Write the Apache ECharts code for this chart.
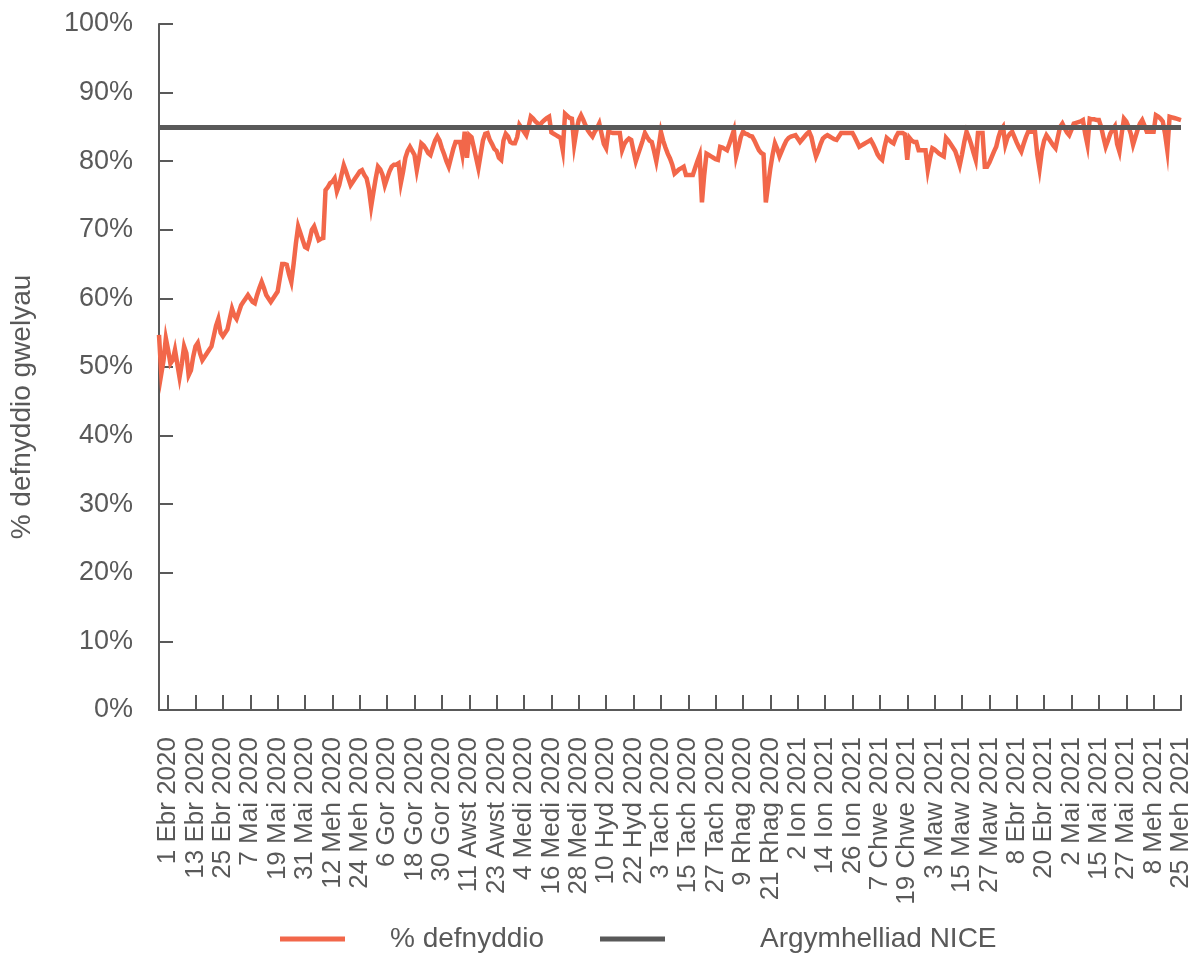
<!DOCTYPE html>
<html>
<head>
<meta charset="utf-8">
<script src="https://cdn.jsdelivr.net/npm/echarts@6/dist/echarts.min.js"></script>
<style>
html,body{margin:0;padding:0;background:#fff;}
#chart{width:1194px;height:953px;}
</style>
</head>
<body>
<div id="chart"></div>
<script>
// Welsh month abbreviations used in the category labels
const monthNames = ['Ion','Chwe','Maw','Ebr','Mai','Meh','Gor','Awst','Medi','Hyd','Tach','Rhag'];
// first date in the series and dates absent from the data
const startDate = [2020, 2, 28];
const missingDates = ['3 Mai 2021','12 Meh 2021','13 Meh 2021','19 Meh 2021','20 Meh 2021','24 Meh 2021'];
const endDate = [2021, 5, 25];
const firstLabelIndex = 4;
const labelStep = 12;

// % bed occupancy, daily (28 Mar 2020 - Aug 2020)
const usagePart1 = [
54.7,49,51,54.2,
52.5,50.5,51,52.5,50.5,48.5,50.5,53,52,48.8,49.5,51.5,
53,53.5,52,51,51.5,52,52.5,53,54.5,56,57,55,
54.5,55,55.5,57,58.5,57.5,57,58,59,59.5,60,60.5,
60,59.5,59.3,60.5,61.5,62.4,61.5,60.5,60,59.5,60,60.5,
61,63,65,65,64.9,63.5,62.4,65,68,70.5,69.5,68.5,
67.5,67.3,68.5,70,70.5,69.5,68.5,68.7,68.8,75.8,76.2,76.8,
77,77.5,75.6,76.5,78,79.4,78.5,77.5,76.5,77,77.5,78,
78.5,78.7,78,77.5,76,73.4,75.5,77.5,79.2,78.8,78,76.5,
77.5,78.5,79.2,79.5,79.5,79.7,76.8,78.5,80.5,81.5,82.1,81.5,
80.9,78.7,80.5,82.6,82.3,81.8,81.2,80.9,82,83,83.6,83,
81.9,81,80,79.2,80.5,81.8,82.8,82.8,82.8,81,84.3,80.5,
83.8,83.5,82,80.5,79,81,83,84,84.1,83.1,82.5,81.8
];
// Sep 2020 - Jan 2021
const usagePart2 = [
81.5,80.5,80.2,83,84,83.6,82.8,82.6,82.6,83.5,85.3,84.8,
84.3,83.8,85,86.5,86.2,85.8,85.5,85.3,85.7,86,86.3,86.5,
84.2,84,83.8,83.6,83.4,81.6,86.9,86.6,86.3,86.2,82.4,84.5,
86,86.7,86,85.2,84.5,84,83.6,84.3,84.8,85.5,84,82.5,
81.9,84.3,84.2,84.1,84.1,84.1,84.1,81.6,82.5,83,83.3,83.1,
81.5,80,81,82,83,84.1,83.5,83,82.8,81.5,80,82,
84.3,83,82,81.1,80.4,79.5,78.2,78.5,78.8,79,79.2,78,
78,78,78,79,80,80.9,74,78,81.1,80.9,80.7,80.5,
80.3,80.2,82.1,82,81.8,81.6,82.5,83.5,84.5,80.7,82,83.5,
84.3,84,83.9,83.7,83.6,83,82.3,81.6,81.2,81,74,76.5,
79,81,82.6,81.8,80.7,81.5,82.3,83,83.4,83.6,83.7,83.8,
83.3,82.8,83.2,83.6,84,84.3,83.5,82,80.7,81.5,82.5,83.3
];
// Jan 2021 - Jun 2021
const usagePart3 = [
83.6,83.8,83.6,83.4,83.2,83.1,83.6,84.1,84.1,84.1,84.1,84.1,
84.1,83.5,82.8,82.1,82.3,82.5,82.7,82.9,83.1,82.5,81.8,81,
80.5,80.2,82,83.4,83.1,82.8,82.6,83.5,84.1,84.1,84.1,83.9,
80.2,83.4,83,82.8,82.8,81.6,81.6,81.6,81.6,78.7,80.5,81.9,
81.7,81.4,81.1,80.9,80.7,83.4,83,82.5,82,81.5,80.5,79.4,
81,82.8,84.3,83.5,82.5,81.3,80.2,84.1,84.1,84.1,79.2,79.2,
79.8,80.6,81.4,82.1,83.5,84.5,85,82.4,83.5,84,84.3,83.5,
82.7,82,81.4,82.5,83.5,84.3,84.3,84.3,84.3,81,78.9,81.5,
83,83.8,83.3,82.8,82.3,81.9,83.5,85,85.5,84.8,84.2,83.8,
84.6,85.5,85.6,85.7,85.8,86,84,82.4,86.2,86.1,86.1,86,
86,85,83.5,82.1,83,84,84.6,85.1,82.5,81.4,84,86.2,
85.8,85,84,82.4,83.5,84.6,85.5,86,85.2,84.3,84.3,84.3,
84.3,86.7,86.5,86.2,85.8,84,81.6,86.5,86.4,86.3,86.2,86.1,
86
];
const usagePct = usagePart1.concat(usagePart2, usagePart3);
const niceTarget = 85;
const yTickStep = 10;
const yAxisTitle = '% defnyddio gwelyau';

// build daily category labels
const categories = [];
{
  const d = new Date(Date.UTC(startDate[0], startDate[1], startDate[2]));
  const end = Date.UTC(endDate[0], endDate[1], endDate[2]);
  while (d.getTime() <= end) {
    const s = d.getUTCDate() + ' ' + monthNames[d.getUTCMonth()] + ' ' + d.getUTCFullYear();
    if (missingDates.indexOf(s) < 0) categories.push(s);
    d.setUTCDate(d.getUTCDate() + 1);
  }
}

const showAt = (i) => i >= firstLabelIndex && (i - firstLabelIndex) % labelStep === 0;
const txt = '#595959';
const orange = '#F2674A';
const font = '"Liberation Sans", Arial, sans-serif';

const chart = echarts.init(document.getElementById('chart'), null, {renderer: 'canvas'});
chart.setOption({
  animation: false,
  backgroundColor: '#ffffff',
  grid: {left: 159, right: 11, top: 24, bottom: 243},
  graphic: [{
    type: 'text',
    x: 22, y: 407,
    rotation: Math.PI / 2,
    style: {text: yAxisTitle, fill: txt, font: '28px "Liberation Sans", Arial, sans-serif', align: 'center', verticalAlign: 'middle'}
  }],
  legend: [
    {
      data: [{name: '% defnyddio', icon: 'rect'}],
      left: 280, top: 925, padding: 0, itemWidth: 65, itemHeight: 5,
      textStyle: {color: txt, fontSize: 28, fontFamily: font, padding: [0, 0, 0, 40]}
    },
    {
      data: [{name: 'Argymhelliad NICE', icon: 'rect'}],
      left: 600, top: 925, padding: 0, itemWidth: 65, itemHeight: 5,
      textStyle: {color: txt, fontSize: 28, fontFamily: font, padding: [0, 0, 0, 90]}
    }
  ],
  xAxis: {
    type: 'category',
    data: categories,
    boundaryGap: false,
    axisLine: {lineStyle: {color: txt, width: 2}},
    axisTick: {show: true, inside: true, length: 15, interval: (i) => showAt(i), lineStyle: {color: txt, width: 2}},
    axisLabel: {interval: (i) => showAt(i), rotate: 90, margin: 27, color: txt, fontSize: 26, fontFamily: font},
    splitLine: {show: false}
  },
  yAxis: {
    type: 'value',
    min: 0, max: 100, interval: yTickStep,
    axisLine: {show: true, lineStyle: {color: txt, width: 2}},
    axisTick: {show: true, inside: true, length: 14, lineStyle: {color: txt, width: 2}},
    axisLabel: {formatter: '{value}%', margin: 26, color: txt, fontSize: 27, fontFamily: font},
    splitLine: {show: false}
  },
  series: [
    {
      name: '% defnyddio',
      type: 'line',
      data: usagePct,
      showSymbol: false,
      symbol: 'none',
      z: 2,
      itemStyle: {color: orange},
      lineStyle: {color: orange, width: 4.5, join: 'miter'}
    },
    {
      name: 'Argymhelliad NICE',
      type: 'line',
      data: [],
      z: 3,
      itemStyle: {color: '#595959'},
      lineStyle: {color: '#595959', width: 5},
      markLine: {
        silent: true,
        symbol: 'none',
        label: {show: false},
        lineStyle: {color: '#595959', width: 5, type: 'solid'},
        data: [{yAxis: niceTarget}]
      }
    }
  ]
});
</script>
</body>
</html>
